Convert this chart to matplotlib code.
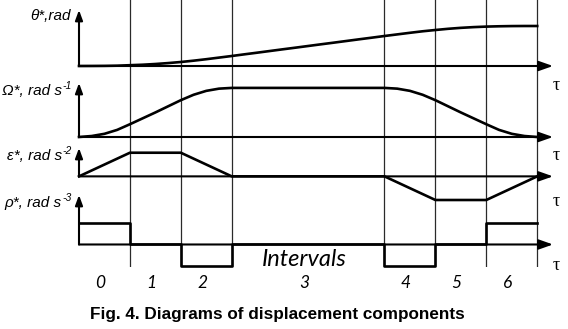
import numpy as np
import matplotlib
matplotlib.use('Agg')
import matplotlib.pyplot as plt
from matplotlib.transforms import blended_transform_factory

# ---- data (normalised) ----
bounds = [0, 1, 2, 3, 6, 7, 8, 9]
interval_names = ['0', '1', '2', '3', '4', '5', '6']

tau = np.linspace(0, 9, 37)
theta = [0, 0.001, 0.003, 0.008, 0.02, 0.032, 0.05, 0.073, 0.1, 0.133, 0.17, 0.21,
         0.25, 0.292, 0.333, 0.375, 0.417, 0.458, 0.5, 0.542, 0.583, 0.625, 0.667,
         0.708, 0.75, 0.79, 0.83, 0.868, 0.9, 0.93, 0.954, 0.972, 0.985, 0.993,
         0.998, 1.0, 1.0]
omega = [0, 0.02, 0.065, 0.145, 0.26, 0.38, 0.5, 0.625, 0.75, 0.86, 0.94, 0.985,
         1, 1, 1, 1, 1, 1, 1, 1, 1, 1, 1, 1, 1,
         0.985, 0.94, 0.86, 0.75, 0.625, 0.5, 0.38, 0.26, 0.145, 0.065, 0.02, 0]
eps = [0, 1, 1, 0, 0, -1, -1, 0]
jerk = [1, 0, -1, 0, -1, 0, 1]

labels = ['θ*,rad', 'Ω*, rad s', 'ε*, rad s', 'ρ*, rad s']
label_sup = ['', '-1', '-2', '-3']

# ---- layout (pixels) ----
W, H = 568, 329
fig = plt.figure(figsize=(W / 100, H / 100), dpi=100)

def px_axes(x0, y0, x1, y1):
    a = fig.add_axes([x0 / W, 1 - y1 / H, (x1 - x0) / W, (y1 - y0) / H])
    a.set_axis_off()
    a.patch.set_alpha(0)
    return a

X0, X1 = 79, 553
xmax = 9.31

grid = px_axes(X0, 0, X1, 267)
grid.set_xlim(0, xmax)
grid.set_ylim(0, 1)
for b in bounds[1:]:
    grid.axvline(b, color='#2a2a2a', lw=0.9)

# (top px, bottom px, ylim)
panels = [(10, 66, (0, 1.4)), (83, 137, (0, 1.1)),
          (148, 200, (-1, 1.2)), (195, 266, (-1, 2.3))]
axes = []
for top, bot, yl in panels:
    a = px_axes(X0, top, X1, bot)
    a.set_xlim(0, xmax)
    a.set_ylim(*yl)
    axes.append(a)

lw_curve = 1.9
axes[0].plot(tau, theta, color='k', lw=lw_curve, clip_on=False)
axes[1].plot(tau, omega, color='k', lw=lw_curve, clip_on=False)
axes[2].plot(bounds, eps, color='k', lw=lw_curve, clip_on=False)
axes[3].step(bounds, jerk + [jerk[-1]], where='post', color='k', lw=lw_curve,
             clip_on=False)

tau_y = [85, 155, 202, 265]
label_y = [16, 91, 156, 203]
for a, (top, bot, yl), ty, ly, lab, sup in zip(axes, panels, tau_y, label_y,
                                               labels, label_sup):
    a.annotate('', xy=(xmax, 0), xytext=(0, 0),
               arrowprops=dict(arrowstyle='-|>,head_length=0.85,head_width=0.3',
                               color='k', lw=1.5, shrinkA=0, shrinkB=0))
    a.annotate('', xy=(0, yl[1]), xytext=(0, 0),
               arrowprops=dict(arrowstyle='-|>,head_length=0.6,head_width=0.22',
                               color='k', lw=1.5, shrinkA=0, shrinkB=0))
    fig.text(556 / W, 1 - ty / H, 'τ', family='Liberation Serif', fontsize=13,
             ha='center', va='center')
    if sup:
        fig.text(62 / W, 1 - ly / H, lab, family='Liberation Sans',
                 style='italic', fontsize=11, ha='right', va='center')
        fig.text(62.5 / W, 1 - (ly - 5) / H, sup, family='Liberation Sans',
                 style='italic', fontsize=7.5, ha='left', va='center')
    else:
        fig.text(71 / W, 1 - ly / H, lab, family='Liberation Sans',
                 style='italic', fontsize=11, ha='right', va='center')

tr = blended_transform_factory(axes[3].transData, fig.transFigure)
for i, name in enumerate(interval_names):
    mid = (bounds[i] + bounds[i + 1]) / 2
    axes[3].text(mid - 0.08, 1 - 283 / H, name, transform=tr, family='Lato',
                 style='italic', fontsize=12.5, ha='center', va='center')

fig.text(304 / W, 1 - 259 / H, 'Intervals', family='Lato', style='italic',
         fontsize=17, ha='center', va='center')
fig.text(277 / W, 1 - 314 / H, 'Fig. 4. Diagrams of displacement components',
         family='Liberation Sans', weight='bold', fontsize=12.3, ha='center',
         va='center')

fig.savefig('out.png', dpi=100)
